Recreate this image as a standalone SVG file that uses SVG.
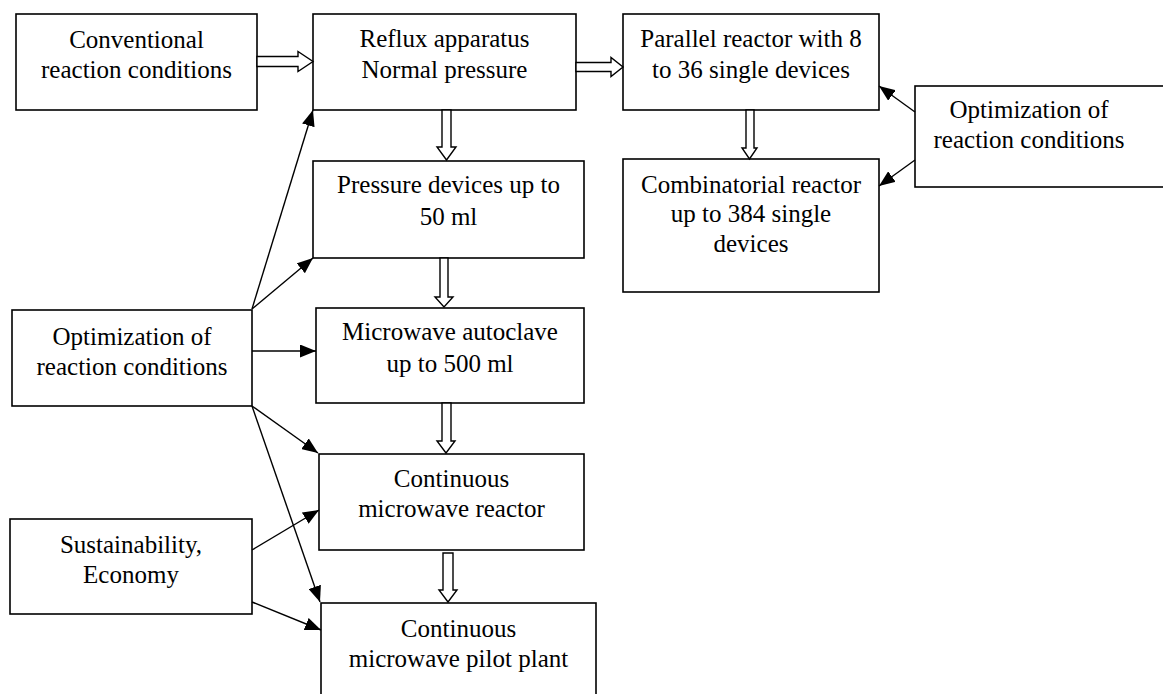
<svg xmlns="http://www.w3.org/2000/svg" width="1163" height="694" viewBox="0 0 1163 694">
<style>
.box{fill:#fff;stroke:#000;stroke-width:1.6}
.t{font-family:"Liberation Serif","Times New Roman",serif;font-size:25px;fill:#000;text-anchor:middle}
.c{stroke:#000;stroke-width:1.4;fill:none}
.h{fill:#fff;stroke:#000;stroke-width:1.4;stroke-linejoin:miter}
</style>
<defs>
<marker id="ah" markerUnits="userSpaceOnUse" markerWidth="17" markerHeight="13" refX="16" refY="6.5" orient="auto">
<path d="M0,0 L16,6.5 L0,13 z" fill="#000"/>
</marker>
</defs>
<rect width="1163" height="694" fill="#fff"/>
<g id="conventional"><rect class="box" x="16" y="14" width="241" height="96"/><text class="t" x="136.5" y="48">Conventional</text><text class="t" x="136.5" y="78">reaction conditions</text></g>
<g id="reflux"><rect class="box" x="313" y="14" width="263" height="96"/><text class="t" x="444.5" y="47">Reflux apparatus</text><text class="t" x="444.5" y="78">Normal pressure</text></g>
<g id="parallel"><rect class="box" x="623" y="14" width="256" height="96"/><text class="t" x="751" y="47">Parallel reactor with 8</text><text class="t" x="751" y="78">to 36 single devices</text></g>
<g id="combinatorial"><rect class="box" x="623" y="159" width="256" height="133"/><text class="t" x="751" y="193">Combinatorial reactor</text><text class="t" x="751" y="222">up to 384 single</text><text class="t" x="751" y="252">devices</text></g>
<g id="optimization-right"><rect class="box" x="915" y="86" width="260" height="101"/><text class="t" x="1029" y="118">Optimization of</text><text class="t" x="1029" y="148">reaction conditions</text></g>
<g id="pressure"><rect class="box" x="313" y="161" width="271" height="97"/><text class="t" x="448.5" y="193">Pressure devices up to</text><text class="t" x="448.5" y="225">50 ml</text></g>
<g id="microwave"><rect class="box" x="316" y="308" width="268" height="95"/><text class="t" x="450" y="340">Microwave autoclave</text><text class="t" x="450" y="372">up to 500 ml</text></g>
<g id="optimization-left"><rect class="box" x="12" y="310" width="240" height="96"/><text class="t" x="132" y="345">Optimization of</text><text class="t" x="132" y="375">reaction conditions</text></g>
<g id="continuous"><rect class="box" x="319" y="454" width="265" height="96"/><text class="t" x="451.5" y="487">Continuous</text><text class="t" x="451.5" y="517">microwave reactor</text></g>
<g id="sustainability"><rect class="box" x="10" y="519" width="242" height="95"/><text class="t" x="131" y="553">Sustainability,</text><text class="t" x="131" y="583">Economy</text></g>
<g id="pilot"><rect class="box" x="321" y="603" width="275" height="100"/><text class="t" x="458.5" y="637">Continuous</text><text class="t" x="458.5" y="667">microwave pilot plant</text></g>
<g id="connectors">
<path class="h" d="M257,56.5 H298 V51.5 L313,61.5 L298,71.5 V66.5 H257 Z"/>
<path class="h" d="M576,62.5 H611 V57.5 L623,67 L611,76.5 V71.5 H576 Z"/>
<path class="h" d="M746,110 V148 H742 L749.5,159 L757,148 H754 V110 Z"/>
<path class="h" d="M442,110 V147 H437 L446.5,160 L456,147 H451 V110 Z"/>
<path class="h" d="M440,258 V297 H435 L444,307 L453,297 H448 V258 Z"/>
<path class="h" d="M442,403 V441 H437 L446,453 L455,441 H451 V403 Z"/>
<path class="h" d="M443,553 V590 H439 L448,602 L457,590 H453 V553 Z"/>
<line class="c" x1="252" y1="309" x2="313" y2="110" marker-end="url(#ah)"/>
<line class="c" x1="252" y1="309" x2="313" y2="258" marker-end="url(#ah)"/>
<line class="c" x1="252" y1="351" x2="316" y2="351" marker-end="url(#ah)"/>
<line class="c" x1="252" y1="406" x2="318" y2="453" marker-end="url(#ah)"/>
<line class="c" x1="252" y1="406" x2="320" y2="602" marker-end="url(#ah)"/>
<line class="c" x1="252" y1="550" x2="319" y2="510" marker-end="url(#ah)"/>
<line class="c" x1="252" y1="602" x2="321" y2="630" marker-end="url(#ah)"/>
<line class="c" x1="915" y1="112" x2="879" y2="86" marker-end="url(#ah)"/>
<line class="c" x1="915" y1="160" x2="879" y2="186" marker-end="url(#ah)"/>
</g>
</svg>
